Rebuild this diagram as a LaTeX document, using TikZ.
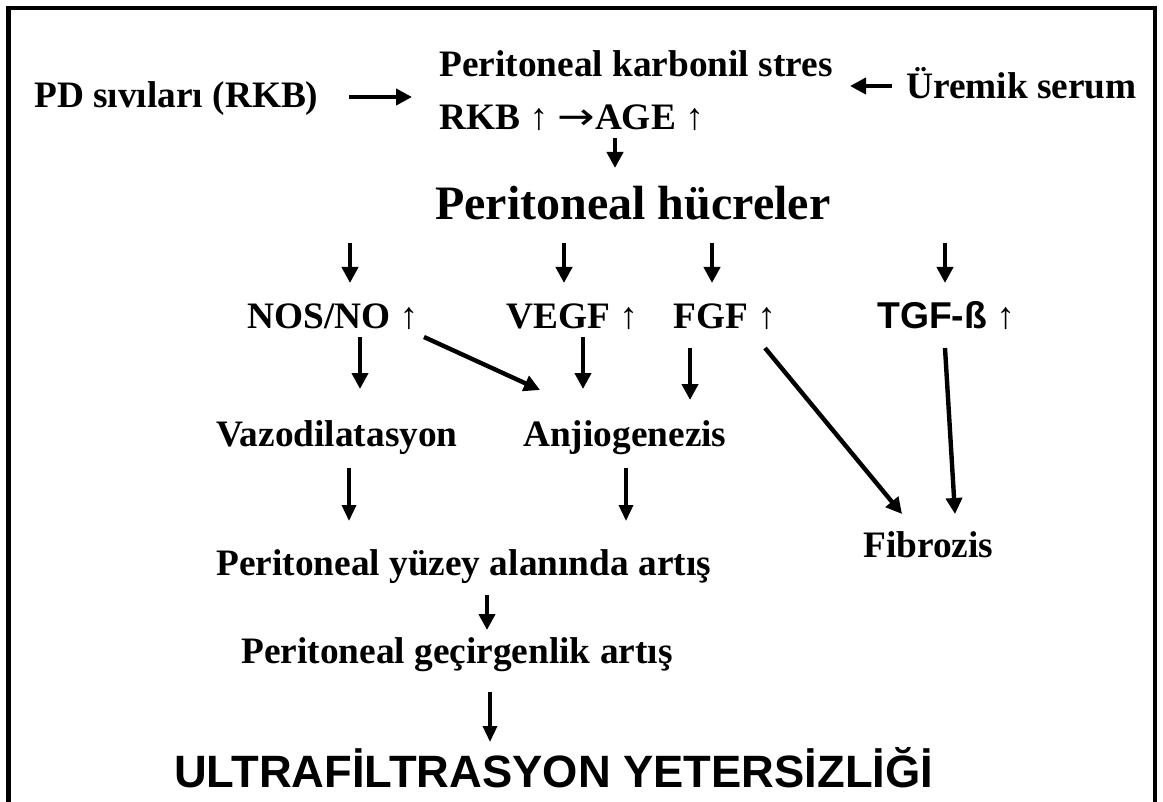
\documentclass[tikz,border=0pt]{standalone}
\usepackage{fontspec}
\usepackage{graphicx}
\setmainfont{Liberation Serif}
\newfontfamily\sansf{Liberation Sans}
\newfontfamily\dvsf{DejaVu Sans}
\usetikzlibrary{arrows.meta}
\newcommand\uparw{{\mdseries ↑}}
\newcommand\rtarw{{\dvsf\mdseries\scalebox{1.2}[1]{→}}}
\begin{document}
\begin{tikzpicture}[x=0.75pt,y=-0.75pt,
  lbl/.style={inner sep=0pt, anchor=base west, font=\fontsize{28}{32}\selectfont\bfseries},
  big/.style={inner sep=0pt, anchor=base west, font=\fontsize{36}{40}\selectfont\bfseries},
  tarr/.style={line width=3.3pt, -{Triangle[length=12pt,width=12pt]}},
  narr/.style={line width=2.6pt, -{Triangle[length=12pt,width=10.5pt]}}]
\useasboundingbox (0,0) rectangle (1163,802);
% frame
\draw[line width=3.4pt] (8.5,802) -- (8.5,8) -- (1155,8) -- (1155,802);

% texts
\node[lbl] (pd) at (34,108) {PD sıvıları (RKB)};
\node[lbl] (kar) at (439,77) {Peritoneal karbonil stres};
\node[lbl] (rkb) at (439,130) {RKB \uparw{} \rtarw AGE \uparw};
\node[lbl] (ure) at (906,99) {Üremik serum};
\node[big] (hc) at (435,220) {Peritoneal hücreler};
\node[lbl] (nos) at (247,328) {NOS/NO \uparw};
\node[lbl] (vegf) at (506,328) {VEGF \uparw};
\node[lbl] (fgf) at (673,328) {FGF \uparw};
\node[lbl] (tgf) at (877,328) {{\sansf TGF-ß} \uparw};
\node[lbl] (vazo) at (216,446) {Vazodilatasyon};
\node[lbl] (anj) at (523,446) {Anjiogenezis};
\node[lbl] (yuz) at (216,575) {Peritoneal yüzey alanında artış};
\node[lbl] (fib) at (863,557) {Fibrozis};
\node[lbl] (gec) at (241,663) {Peritoneal geçirgenlik artış};
\node[inner sep=0pt, anchor=base west, font=\fontsize{34}{38}\selectfont\sansf\bfseries] (uf) at (174,787) {ULTRAFİLTRASYON YETERSİZLİĞİ};

% connector end points
\coordinate (pdS) at (349,97);   \coordinate (pdE) at (412,97);
\coordinate (urS) at (892,86);   \coordinate (urE) at (850,86);
\coordinate (agS) at (615,138);  \coordinate (agE) at (615,168);
\coordinate (h1S) at (350,243);  \coordinate (h1E) at (350,283);
\coordinate (h2S) at (564,243);  \coordinate (h2E) at (564,283);
\coordinate (h3S) at (712,243);  \coordinate (h3E) at (712,283);
\coordinate (h4S) at (945,243);  \coordinate (h4E) at (945,283);
\coordinate (noS) at (360,337);  \coordinate (noE) at (360,389);
\coordinate (ndS) at (424,337);  \coordinate (ndE) at (540,390);
\coordinate (veS) at (583,337);  \coordinate (veE) at (583,389);
\coordinate (fgS) at (690,348);  \coordinate (fgE) at (690,400);
\coordinate (fdS) at (765,348);  \coordinate (fdE) at (902,514);
\coordinate (tgS) at (945,348);  \coordinate (tgE) at (955,514);
\coordinate (vaS) at (349,468);  \coordinate (vaE) at (349,521);
\coordinate (anS) at (626,468);  \coordinate (anE) at (626,521);
\coordinate (yuS) at (487,595);  \coordinate (yuE) at (487,630);
\coordinate (geS) at (490,692);  \coordinate (geE) at (490,742);

% connectors
\draw[tarr] (pdS) -- (pdE);
\draw[tarr] (urS) -- (urE);
\draw[tarr] (agS) -- (agE);
\draw[tarr] (h1S) -- (h1E);
\draw[tarr] (h2S) -- (h2E);
\draw[tarr] (h3S) -- (h3E);
\draw[tarr] (h4S) -- (h4E);
\draw[tarr] (noS) -- (noE);
\draw[tarr] (ndS) -- (ndE);
\draw[tarr] (veS) -- (veE);
\draw[tarr] (fgS) -- (fgE);
\draw[tarr] (fdS) -- (fdE);
\draw[tarr] (tgS) -- (tgE);
\draw[narr] (vaS) -- (vaE);
\draw[narr] (anS) -- (anE);
\draw[tarr] (yuS) -- (yuE);
\draw[narr] (geS) -- (geE);
\end{tikzpicture}
\end{document}
